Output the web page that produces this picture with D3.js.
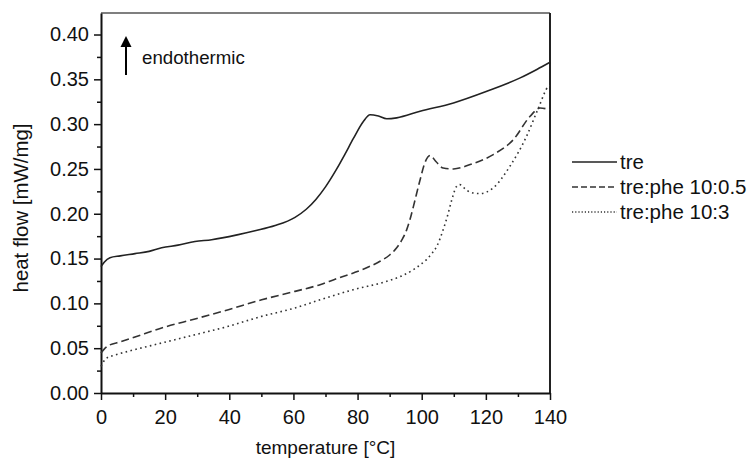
<!DOCTYPE html>
<html>
<head>
<meta charset="utf-8">
<script src="https://cdn.jsdelivr.net/npm/d3@7"></script>
<style>
body{margin:0;background:#fff;}
svg{font-family:"Liberation Sans",Arial,sans-serif;}
</style>
</head>
<body>
<svg id="svg" width="753" height="459"></svg>
<script>
// temperatures [°C] and heat flow [mW/mg]
var treT=[0,1,2.8,6,10.6,15,18.9,24,29.3,34.5,42.8,48,54.3,60.5,64,67,70,73.5,76,78.7,81.8,83.9,86.5,89.1,92.2,99.5,109.9,120.3,130.7,135.9,140];
var treV=[0.141,0.146,0.151,0.153,0.1555,0.158,0.162,0.165,0.169,0.171,0.1767,0.181,0.1868,0.196,0.205,0.216,0.23,0.25,0.266,0.284,0.303,0.3105,0.309,0.306,0.307,0.3144,0.3237,0.3367,0.3516,0.361,0.369];

var phe05T=[0,1,2.3,6,10.6,18.9,29.3,39.7,50.1,60.5,68.3,73,78.7,83,87,90,92.2,94,95.3,96.3,97.4,99.5,101,102.6,104.5,106.7,109.9,115.1,122.3,128.6,133.8,136.9,140];
var phe05V=[0.0447,0.049,0.0528,0.057,0.0625,0.0725,0.0826,0.093,0.104,0.1134,0.1209,0.127,0.134,0.140,0.147,0.154,0.162,0.172,0.182,0.193,0.208,0.238,0.257,0.265,0.258,0.251,0.250,0.2549,0.266,0.2828,0.3088,0.318,0.316];

var phe3T=[0,0.8,1.8,4,8.5,18.9,29.3,39.7,50.1,60.5,68.3,78.7,89.1,94,97.4,99.5,101.5,103,104.7,106.7,108.3,109.4,110.9,111.9,113.5,115.1,118.2,122.3,127.5,132.7,136.4,139.5,140];
var phe3V=[0.0297,0.035,0.039,0.042,0.0465,0.0558,0.065,0.0744,0.0855,0.0949,0.104,0.1153,0.1246,0.131,0.1376,0.143,0.1488,0.155,0.1637,0.1823,0.201,0.2158,0.2306,0.2325,0.228,0.224,0.2225,0.2288,0.253,0.2865,0.318,0.342,0.343];

var seriesNames=["tre","tre:phe 10:0.5","tre:phe 10:3"];
var xTicks=[0,20,40,60,80,100,120,140];
var yTicks=[0,0.05,0.10,0.15,0.20,0.25,0.30,0.35,0.40];

var svg=d3.select('#svg');
var padding={top:13,right:203,bottom:66,left:101};
var chartArea={
    "width":parseInt(svg.attr("width"))-padding.left-padding.right,
    "height":parseInt(svg.attr("height"))-padding.top-padding.bottom
};

var xScale=d3.scaleLinear().domain([0,140]).range([0,chartArea.width]);
var yScale=d3.scaleLinear().domain([0,0.424]).range([chartArea.height,0]);

var plot=svg.append("g").attr('transform','translate('+padding.left+','+padding.top+')');

// frame (top and right)
plot.append("line").attr("x1",0).attr("x2",chartArea.width).attr("y1",0).attr("y2",0)
    .attr("stroke","#555").attr("stroke-width",1.5);
plot.append("line").attr("x1",chartArea.width).attr("x2",chartArea.width).attr("y1",0).attr("y2",chartArea.height)
    .attr("stroke","#222").attr("stroke-width",2);

// minor ticks
var xMinor=d3.range(10,140,20);
var yMinor=d3.range(0.025,0.424,0.05);
plot.append("g").attr('transform','translate(0,'+chartArea.height+')')
    .call(d3.axisBottom(xScale).tickValues(xMinor).tickSize(4).tickSizeOuter(0).tickFormat(""))
    .call(function(g){g.select(".domain").remove();});
plot.append("g")
    .call(d3.axisLeft(yScale).tickValues(yMinor).tickSize(4).tickSizeOuter(0).tickFormat(""))
    .call(function(g){g.select(".domain").remove();});

// major axes
var xAxis=plot.append("g").attr('transform','translate(0,'+chartArea.height+')')
    .call(d3.axisBottom(xScale).tickValues(xTicks).tickSize(7).tickSizeOuter(0).tickPadding(10).tickFormat(d3.format("d")));
var yAxis=plot.append("g")
    .call(d3.axisLeft(yScale).tickValues(yTicks).tickSize(7).tickSizeOuter(0).tickPadding(5).tickFormat(d3.format(".2f")));

plot.selectAll(".domain").attr("stroke","#111").attr("stroke-width",2);
plot.selectAll(".tick line").attr("stroke","#111").attr("stroke-width",1.5);
plot.selectAll(".tick text").attr("font-size",20).attr("fill","#111").attr("font-family","Liberation Sans, Arial, sans-serif");

// axis titles
svg.append("text").attr("x",padding.left+chartArea.width/2).attr("y",454)
    .attr("text-anchor","middle").attr("font-size",19).attr("fill","#111")
    .text("temperature [°C]");
svg.append("text").attr("transform","translate(28,208) rotate(-90)")
    .attr("text-anchor","middle").attr("font-size",20.4).attr("fill","#111")
    .text("heat flow [mW/mg]");

// curves
var styles=[
    {dash:null,color:"#222"},
    {dash:"8,4",color:"#333"},
    {dash:"1.6,3.4",color:"#333"}
];
var curves=[
    d3.zip(treT,treV),
    d3.zip(phe05T,phe05V),
    d3.zip(phe3T,phe3V)
];
var line=d3.line()
    .x(function(d){return xScale(d[0]);})
    .y(function(d){return yScale(d[1]);})
    .curve(d3.curveMonotoneX);

plot.selectAll("path.curve").data(curves).enter()
    .append("path").attr("class","curve")
    .attr("d",line)
    .attr("fill","none")
    .attr("stroke",function(d,i){return styles[i].color;})
    .attr("stroke-width",1.6)
    .attr("stroke-dasharray",function(d,i){return styles[i].dash;});

// endothermic arrow
var arrow=svg.append("g");
arrow.append("line").attr("x1",126).attr("x2",126).attr("y1",75).attr("y2",44)
    .attr("stroke","#000").attr("stroke-width",2);
arrow.append("path").attr("d","M120.5,47 L126,36 L131.5,47 Z").attr("fill","#000");
svg.append("text").attr("x",142).attr("y",64).attr("font-size",18.7).attr("fill","#111").text("endothermic");

// legend
var legend=svg.append("g").attr("transform","translate(572,162)");
var items=legend.selectAll("g").data(seriesNames).enter().append("g")
    .attr("transform",function(d,i){return "translate(0,"+(i*25)+")";});
items.append("line").attr("x1",0).attr("x2",45).attr("y1",0).attr("y2",0)
    .attr("stroke",function(d,i){return styles[i].color;})
    .attr("stroke-width",1.4)
    .attr("stroke-dasharray",function(d,i){return i==0?null:(i==1?"6,3":"1.2,2");});
items.append("text").attr("x",48).attr("y",0).attr("dy","0.35em")
    .attr("font-size",20.5).attr("fill","#111").text(function(d){return d;});
</script>
</body>
</html>
